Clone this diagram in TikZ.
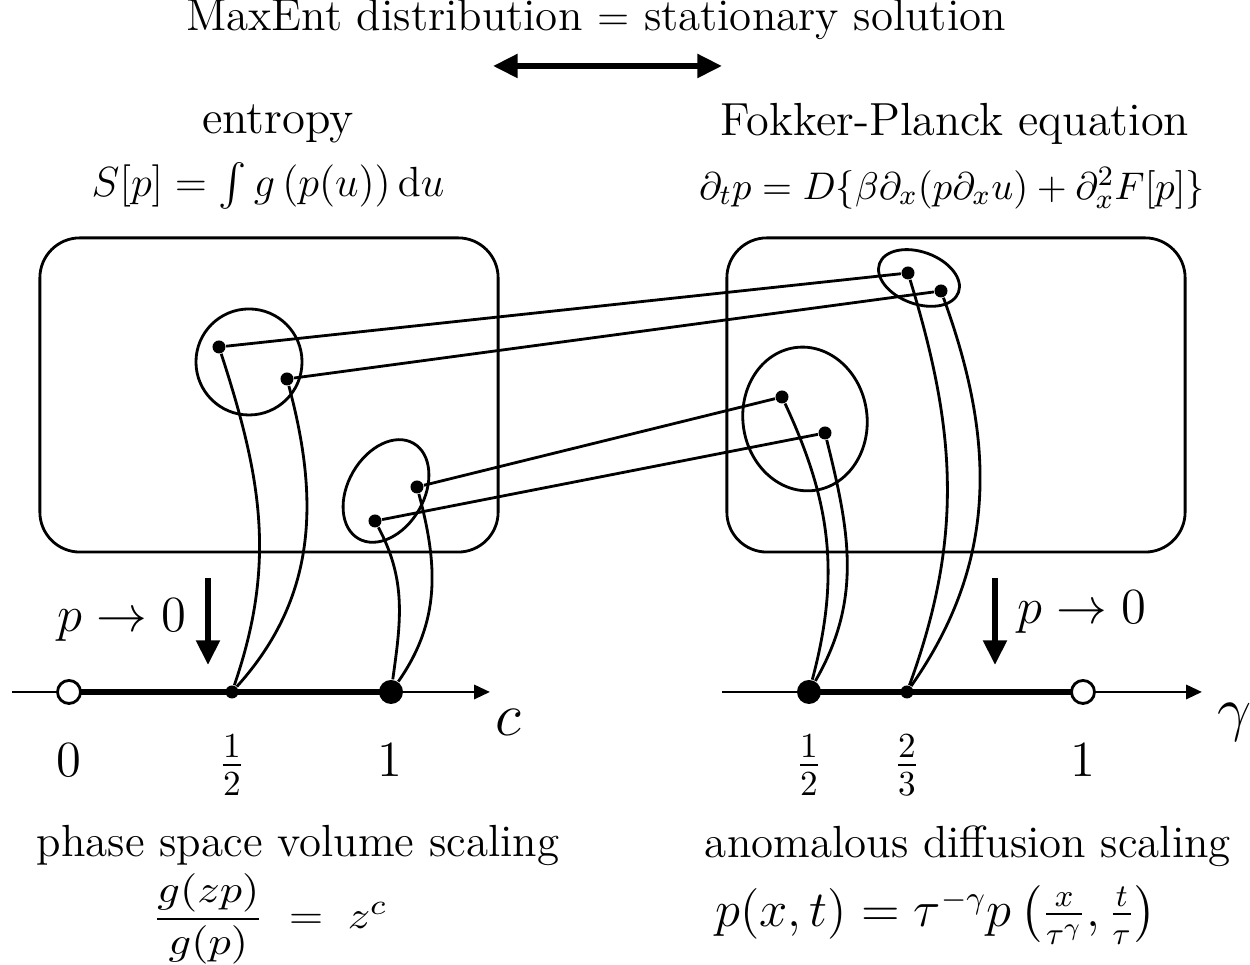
\documentclass[tikz,border=0pt]{standalone}
\usepackage{amsmath,amssymb}
\usepackage{tikz}
\usetikzlibrary{arrows.meta, shapes.geometric}
\tikzset{
>={Triangle[length=4.5pt,width=4pt]},
  domainbox/.style={
    draw, line width=0.8pt,
    rounded corners=0.4cm,
    minimum width=4.58cm,
    minimum height=3.14cm},
  setshape/.style={draw, line width=0.8pt, inner sep=0pt},
  point/.style={circle, fill=black, inner sep=0pt, minimum size=0.13cm},
  bigpoint/.style={circle, fill=black, inner sep=0pt, minimum size=0.24cm},
  openpoint/.style={circle, draw, fill=white, line width=0.8pt, inner sep=0pt, minimum size=0.23cm},
  link/.style={line width=0.8pt},
  axis/.style={line width=0.8pt, ->},
  interval/.style={line width=1.6pt},
  limit/.style={line width=1.6pt, -{Triangle[length=7pt,width=6.5pt]}},
  equivalence/.style={line width=1.6pt, {Triangle[length=7pt,width=6.5pt]}-{Triangle[length=7pt,width=6.5pt]}},
  txt/.style={font=\fontsize{12.8}{15}\selectfont, inner sep=0pt},
  bigtxt/.style={font=\fontsize{13.5}{16}\selectfont, inner sep=0pt},
}

\begin{document}
\begin{tikzpicture}[x=0.01cm, y=0.01cm]
     \useasboundingbox (0,0) rectangle (1250,965);
     % headings
     \node[txt] (Title) at (596,945) {MaxEnt distribution $=$ stationary solution};
     \coordinate (TitleLeft)  at (493,899);
     \coordinate (TitleRight) at (722,899);
     \draw[equivalence] (TitleLeft) -- (TitleRight);
     \node[txt, font=\fontsize{13.3}{16}\selectfont] (EntropyName) at (278,841) {entropy};
     \node[txt, font=\fontsize{12}{14}\selectfont] (EntropyEq) at (268,779) {$S[p]=\int g\left(p(u)\right)\mathrm{d}u$};
     \node[txt, font=\fontsize{13.2}{16}\selectfont] (FokkerName) at (955,841) {Fokker-Planck equation};
     \node[txt, font=\fontsize{11}{13}\selectfont] (FokkerEq) at (952,777) {$\partial_t p=D\{\beta\partial_x(p\partial_x u)+\partial_x^2F[p]\}$};
     % boxes and sets
     \node[domainbox] (EntropyBox) at (269,570) {};
     \node[domainbox] (FokkerBox)  at (956,570) {};
     \node[setshape, circle, minimum size=1.06cm] (EntropySetA) at (249,603) {};
     \node[setshape, ellipse, minimum width=1.10cm, minimum height=0.76cm, rotate=60] (EntropySetB) at (386,474) {};
     \node[setshape, ellipse, minimum width=0.84cm, minimum height=0.52cm, rotate=-20] (FokkerSetC) at (919,687) {};
     \node[setshape, ellipse, minimum width=1.24cm, minimum height=1.44cm, rotate=8] (FokkerSetD) at (805,546) {};
     \node[point] (EntA1) at (219,618) {};
     \node[point] (EntA2) at (287,586) {};
     \node[point] (EntB1) at (417,478) {};
     \node[point] (EntB2) at (375,444) {};
     \node[point] (FokC1) at (908,692) {};
     \node[point] (FokC2) at (941,674) {};
     \node[point] (FokD1) at (782,568) {};
     \node[point] (FokD2) at (825,532) {};
     \draw[link] (EntA1) -- (FokC1);
     \draw[link] (EntA2) -- (FokC2);
     \draw[link] (EntB1) -- (FokD1);
     \draw[link] (EntB2) -- (FokD2);
     % axes
     \coordinate (CAxisStart) at (12,273);
     \coordinate (CAxisEnd)   at (490,273);
     \coordinate (CPosZero)   at (69,273);
     \coordinate (CPosHalf)   at (232,273);
     \coordinate (CPosOne)    at (391,273);
     \draw[axis] (CAxisStart) -- (CAxisEnd);
     \draw[interval] (CPosZero) -- (CPosOne);
     \node[openpoint] (CZero) at (CPosZero) {};
     \node[point] (CHalf) at (CPosHalf) {};
     \node[bigpoint] (COne) at (CPosOne) {};
     \coordinate (GAxisStart) at (722,273);
     \coordinate (GAxisEnd)   at (1202,273);
     \coordinate (GPosHalf)   at (809,273);
     \coordinate (GPosTwo)    at (907,273);
     \coordinate (GPosOne)    at (1083,273);
     \draw[axis] (GAxisStart) -- (GAxisEnd);
     \draw[interval] (GPosHalf) -- (GPosOne);
     \node[bigpoint] (GHalf) at (GPosHalf) {};
     \node[point] (GTwoThirds) at (GPosTwo) {};
     \node[openpoint] (GOne) at (GPosOne) {};
     % scaling limits
     \draw[link] (EntA1) to[out=-72, in=71] (CHalf);
     \draw[link] (EntA2) to[out=-75, in=48] (CHalf);
     \draw[link] (EntB1) to[out=-75, in=55] (COne);
     \draw[link] (EntB2) to[out=-62, in=82] (COne);
     \draw[link] (FokD1) to[out=-65, in=75] (GHalf);
     \draw[link] (FokD2) to[out=-76, in=60] (GHalf);
     \draw[link] (FokC1) to[out=-73, in=70] (GTwoThirds);
     \draw[link] (FokC2) to[out=-70, in=55] (GTwoThirds);
     \coordinate (CLimitTop) at (208,387);
     \coordinate (CLimitBot) at (208,300);
     \draw[limit] (CLimitTop) -- (CLimitBot);
     \node[bigtxt] (CLimit) at (122,345) {$p\to0$};
     \coordinate (GLimitTop) at (995,387);
     \coordinate (GLimitBot) at (995,300);
     \draw[limit] (GLimitTop) -- (GLimitBot);
     \node[bigtxt] (GLimit) at (1082,353) {$p\to0$};
     % tick labels
     \node[bigtxt] (CZeroLabel) at (69,205)  {$0$};
     \node[bigtxt, font=\fontsize{14}{17}\selectfont] (CHalfLabel) at (232,200) {$\frac{1}{2}$};
     \node[bigtxt] (COneLabel)  at (390,205) {$1$};
     \node[txt, font=\LARGE] (CName) at (508,243) {$c$};
     \node[bigtxt, font=\fontsize{14}{17}\selectfont] (GHalfLabel) at (809,200)  {$\frac{1}{2}$};
     \node[bigtxt, font=\fontsize{14}{17}\selectfont] (GTwoLabel)  at (907,200)  {$\frac{2}{3}$};
     \node[bigtxt] (GOneLabel)  at (1083,205) {$1$};
     \node[txt, font=\LARGE] (GName) at (1235,243) {$\gamma$};
     % scalings
     \node[txt] (PhaseName) at (298,119) {phase space volume scaling};
     \node[txt, font=\fontsize{11}{13}\selectfont, xscale=1.15] (PhaseEq) at (270,46) {$\dfrac{g(zp)}{g(p)}\;=\;z^c$};
     \node[txt] (DiffName)  at (968,119) {anomalous diffusion scaling};
     \node[bigtxt] (DiffEq) at (936,50)  {$p(x,t)=\tau^{-\gamma}p\left(\frac{x}{\tau^\gamma},\frac{t}{\tau}\right)$};
\end{tikzpicture}
\end{document}
